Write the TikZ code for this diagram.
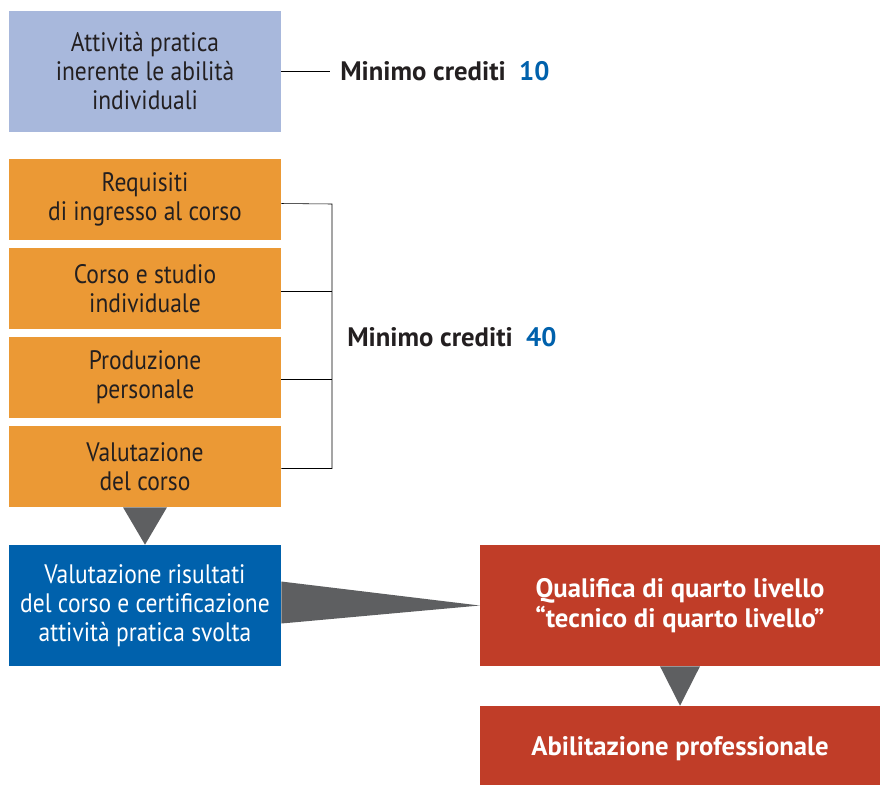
\documentclass[tikz,border=0pt]{standalone}
\usepackage{fontspec}
\setmainfont{PT Sans}[UprightFeatures={FakeStretch=0.88}, BoldFeatures={FakeStretch=1.0}]
\usepackage{tikz}
\usetikzlibrary{calc, positioning}
\definecolor{lightblu}{HTML}{A8B8DC}
\definecolor{arancio}{HTML}{EB9935}
\definecolor{blu}{HTML}{0061AC}
\definecolor{rosso}{HTML}{C03D28}
\definecolor{grigio}{HTML}{5E5F61}
\definecolor{testo}{HTML}{231F20}

\begin{document}
\begin{tikzpicture}[x=0.025cm, y=-0.025cm,
        box/.style={inner sep=0pt, align=center, minimum width=6.8cm, text=testo,
            font=\fontsize{19}{20.6}\selectfont},
        passo/.style={box, fill=arancio, minimum height=2.025cm},
        esito/.style={box, fill=rosso, minimum width=10cm, text=white,
            font=\fontsize{19}{21.5}\selectfont\bfseries},
        crediti/.style={inner ysep=0pt, inner xsep=0.25cm, anchor=west, text=testo,
            font=\fontsize{19}{20.6}\selectfont\bfseries}]
            \useasboundingbox (0,0) rectangle (880,785);
            \node[box, fill=lightblu, minimum height=3.025cm] (att) at (145,71.5) {Attività pratica\\inerente le abilità\\individuali};
            \node[passo] (req) at (145,199.5) {Requisiti\\di ingresso al corso};
            \node[passo] (cor) at (145,288.5) {Corso e studio\\individuale};
            \node[passo] (pro) at (145,377.5) {Produzione\\personale};
            \node[passo] (val) at (145,466.5) {Valutazione\\del corso};
            \node[box, fill=blu, text=white, minimum height=3.025cm] (ris) at (145,605.5) {Valutazione risultati\\del corso e certificazione\\attività pratica svolta};
            \node[esito, minimum height=3.025cm] (qua) at (680,605.5) {Qualifica di quarto livello\\“tecnico di quarto livello”};
            \node[esito, minimum height=1.975cm, text depth=0pt] (abi) at (680,745.5) {Abilitazione professionale};
            \node[crediti] (min10) at (330,71.5) {Minimo crediti\enspace\textcolor{blu}{10}};
            \node[crediti] (min40) at (337,337) {Minimo crediti\enspace\textcolor{blu}{40}};
            \coordinate (br) at (332,204);
            \draw (att.east) -- (min10.west);
            \draw ($(req.east)+(0,4)$) -- (br) |- ($(val.east)+(0,2)$);
            \draw ($(cor.east)+(0,3)$) -- (br |- {$(cor.east)+(0,3)$});
            \draw ($(pro.east)+(0,2)$) -- (br |- {$(pro.east)+(0,2)$});
            \fill[grigio] ($(val.south)+(-22,0)$) -- ($(val.south)+(22,0)$) -- (ris.north) -- cycle;
            \fill[grigio] ($(ris.east)+(0,-24)$) -- ($(ris.east)+(0,18)$) -- (qua.west) -- cycle;
            \fill[grigio] ($(qua.south)+(-20,0)$) -- ($(qua.south)+(20,0)$) -- (abi.north) -- cycle;
        \end{tikzpicture}
\end{document}
